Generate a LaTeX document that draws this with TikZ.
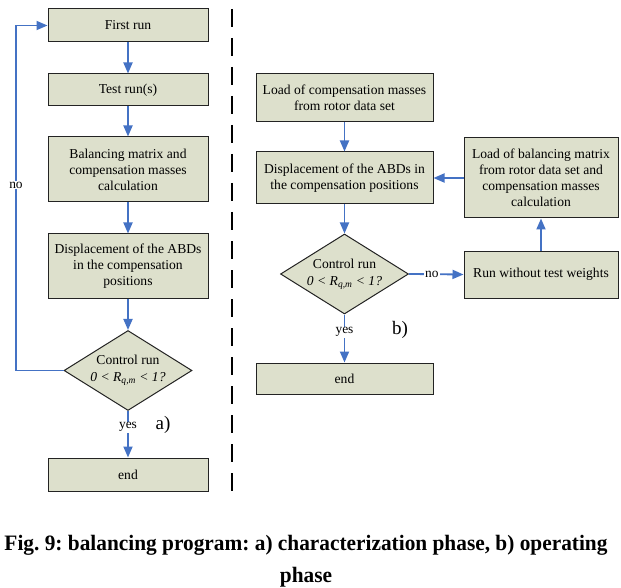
\documentclass[tikz,border=0pt]{standalone}
\usepackage{fontspec}
\setmainfont{Liberation Serif}
\usetikzlibrary{shapes.geometric,arrows.meta}
\definecolor{boxfill}{RGB}{221,224,204}
\definecolor{boxline}{RGB}{35,35,35}
\definecolor{flow}{RGB}{68,114,196}
\tikzset{
  stepbox/.style={draw=boxline, fill=boxfill, line width=1pt, rectangle,
    inner sep=0pt, align=center, font=\fontsize{13.6}{16}\selectfont},
  decision/.style={draw=boxline, fill=boxfill, line width=1pt, diamond,
    inner sep=0pt, minimum width=128pt, minimum height=80pt, aspect=1.6},
  dectext/.style={align=center, inner sep=0pt, font=\fontsize{13.6}{17}\selectfont},
  arr/.style={draw=flow, line width=1.8pt, -{Triangle[length=11pt,width=9pt]}},
  lbl/.style={fill=white, inner sep=1pt, font=\fontsize{13.4}{15}\selectfont},
  tag/.style={inner sep=0pt, font=\fontsize{19}{22}\selectfont},
  sep/.style={draw=black, line width=2pt, dash pattern=on 18pt off 11pt},
  caption/.style={inner sep=0pt, xscale=0.97, font=\fontsize{22}{26}\selectfont\bfseries\frenchspacing}
}
\begin{document}
\begin{tikzpicture}[x=1pt, y=-1pt]
\useasboundingbox (0,0) rectangle (621,588);

% separator between the two phases
\coordinate (septop) at (232,9);
\coordinate (sepbot) at (232,493);
\draw[sep] (septop) -- (sepbot);

% ---- a) characterization phase ----
\node[stepbox, minimum width=160pt, minimum height=33pt] (first) at (128,25.5) {First run};
\node[stepbox, minimum width=160pt, minimum height=32pt] (test) at (128,90) {Test run(s)};
\node[stepbox, minimum width=160pt, minimum height=65pt] (balmat) at (128,169.5)
  {Balancing matrix and\\compensation masses\\calculation};
\node[stepbox, minimum width=160pt, minimum height=64pt] (dispA) at (128,266)
  {Displacement of the ABDs\\in the compensation\\positions};
\node[decision] (decA) at (128,370.5) {};
\node[dectext] (decAtext) at (decA) {Control run\\\textit{0 < R\textsubscript{q,m} < 1?}};
\node[stepbox, minimum width=160pt, minimum height=33pt] (endA) at (128,474.5) {end};

\draw[arr] (first) -- (test);
\draw[arr] (test) -- (balmat);
\draw[arr] (balmat) -- (dispA);
\draw[arr] (dispA) -- (decA);
\draw[arr] (decA) -- node[lbl, pos=0.35] (yesA) {yes} (endA);
\coordinate (loopcorner) at (16,25.5);
\draw[arr] (decA.west) -| (loopcorner) -- (first.west);
\node[lbl] (noA) at (16,185) {no};
\node[tag] (tagA) at (163,425) {a)};

% ---- b) operating phase ----
\node[stepbox, minimum width=177pt, minimum height=48pt] (loadcm) at (344.5,98)
  {Load of compensation masses\\from rotor data set};
\node[stepbox, minimum width=177pt, minimum height=52pt] (dispB) at (344.5,178)
  {Displacement of the ABDs in\\the compensation positions};
\node[decision] (decB) at (344.5,274) {};
\node[dectext] (decBtext) at (decB) {Control run\\\textit{0 < R\textsubscript{q,m} < 1?}};
\node[stepbox, minimum width=177pt, minimum height=31pt] (endB) at (344.5,378.5) {end};
\node[stepbox, minimum width=154pt, minimum height=80pt] (loadbm) at (541,178)
  {Load of balancing matrix\\from rotor data set and\\compensation masses\\calculation};
\node[stepbox, minimum width=154pt, minimum height=47pt] (norun) at (541,274.5)
  {Run without test weights};

\draw[arr] (loadcm) -- (dispB);
\draw[arr] (dispB) -- (decB);
\draw[arr] (decB) -- node[lbl, pos=0.37] (yesB) {yes} (endB);
\draw[arr] (decB.east) -- node[lbl, pos=0.42] (noB) {no} (norun.west);
\draw[arr] (norun) -- (loadbm);
\draw[arr] (loadbm) -- (dispB);
\node[tag] (tagB) at (400,330) {b)};

% caption
\node[caption] (cap1) at (306,545) {Fig. 9: balancing program: a) characterization phase, b) operating};
\node[caption] (cap2) at (306,577) {phase};
\end{tikzpicture}
\end{document}
